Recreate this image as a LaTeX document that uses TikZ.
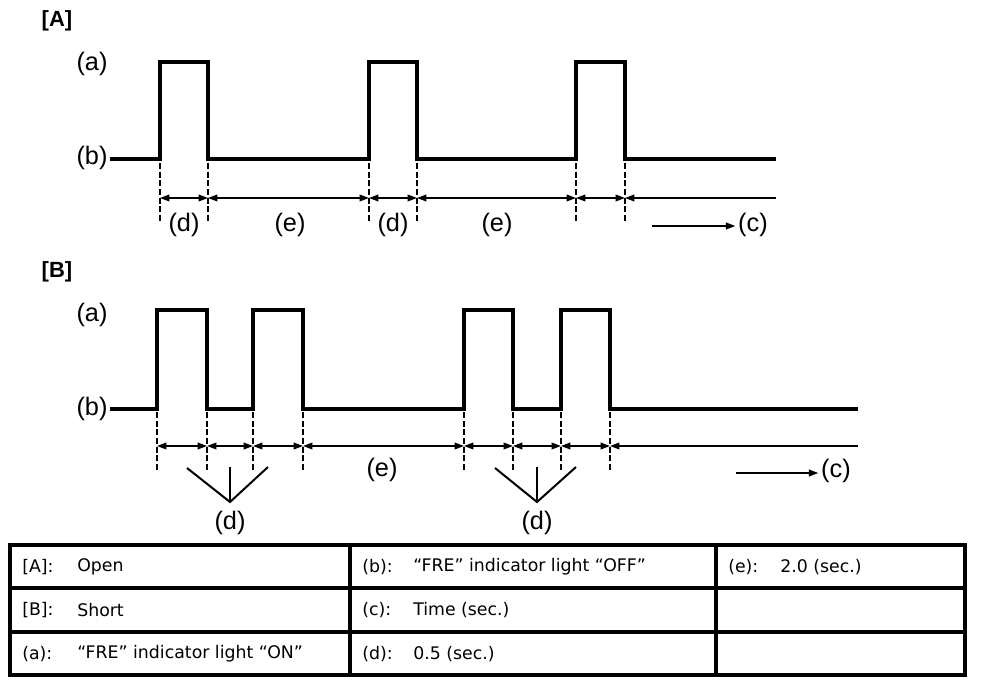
\documentclass[tikz,border=0pt]{standalone}
\usepackage{fontspec}
\setmainfont{Liberation Sans}
\newfontfamily\tabfont{DejaVu Sans}
\usetikzlibrary{arrows.meta}
\begin{document}
\begin{tikzpicture}[x=0.75pt,y=-0.75pt,
  >={Triangle[length=7pt,width=5pt]},
  sig/.style={line width=2.4pt, line join=miter},
  dimline/.style={line width=1.1pt},
  guide/.style={line width=1.4pt, dash pattern=on 4.5pt off 2pt},
  vline/.style={line width=1.5pt},
  lbl/.style={font=\fontsize{19}{21}\selectfont, inner sep=0pt},
  hdr/.style={font=\fontsize{16.5}{18}\selectfont\bfseries, inner sep=0pt},
  tab/.style={font=\tabfont\fontsize{13}{15}\selectfont, anchor=west, inner sep=0pt},
  gridline/.style={line width=2.8pt},
]
\useasboundingbox (0,0) rectangle (992,684);

% ---------- Panel A ----------
\node[hdr] (A) at (57,21) {[A]};
\node[lbl] (Aa) at (92,64) {(a)};
\node[lbl] (Ab) at (92,158) {(b)};
\draw[sig] (110,159) -- (160,159) -- (160,62) -- (208,62) -- (208,159) -- (369,159) -- (369,62) -- (417,62) -- (417,159) -- (576,159) -- (576,62) -- (625,62) -- (625,159) -- (776,159);
\foreach \x in {160,208,369,417,576,625} \draw[guide] (\x,163) -- (\x,222);
\draw[dimline,<->] (160,198) -- (208,198);
\draw[dimline,<->] (208,198) -- (369,198);
\draw[dimline,<->] (369,198) -- (417,198);
\draw[dimline,<->] (417,198) -- (576,198);
\draw[dimline,<->] (576,198) -- (625,198);
\draw[dimline,<-] (625,198) -- (776,198);
\node[lbl] (Ad1) at (184,225) {(d)};
\node[lbl] (Ae1) at (290,225) {(e)};
\node[lbl] (Ad2) at (393,225) {(d)};
\node[lbl] (Ae2) at (497,225) {(e)};
\node[lbl] (Ac) at (753,225) {(c)};
\coordinate (Acs) at (652,226);
\draw[dimline,->] (Acs) -- ([xshift=-2pt]Acs -| Ac.west);

% ---------- Panel B ----------
\node[hdr] (B) at (57,272) {[B]};
\node[lbl] (Ba) at (92,315) {(a)};
\node[lbl] (Bb) at (92,409) {(b)};
\draw[sig] (110,409) -- (157,409) -- (157,310) -- (207,310) -- (207,409) -- (253,409) -- (253,310) -- (303,310) -- (303,409) -- (464,409) -- (464,310) -- (513,310) -- (513,409) -- (561,409) -- (561,310) -- (610,310) -- (610,409) -- (858,409);
\foreach \x in {157,207,253,303,464,513,561,610} \draw[guide] (\x,412) -- (\x,470);
\draw[dimline,<->] (157,446) -- (207,446);
\draw[dimline,<->] (207,446) -- (253,446);
\draw[dimline,<->] (253,446) -- (303,446);
\draw[dimline,<->] (303,446) -- (464,446);
\draw[dimline,<->] (464,446) -- (513,446);
\draw[dimline,<->] (513,446) -- (561,446);
\draw[dimline,<->] (561,446) -- (610,446);
\draw[dimline,<-] (610,446) -- (858,446);
\node[lbl] (Be) at (382,470) {(e)};
\node[lbl] (Bd1) at (230,523) {(d)};
\node[lbl] (Bd2) at (537,523) {(d)};
\draw[vline] (187,468) -- (230,502) -- (268,467);
\draw[vline] (230,467) -- (230,502);
\draw[vline] (495,468) -- (537,502) -- (576,467);
\draw[vline] (537,467) -- (537,502);
\node[lbl] (Bc) at (836,471) {(c)};
\coordinate (Bcs) at (736,473);
\draw[dimline,->] (Bcs) -- ([xshift=-2pt]Bcs -| Bc.west);

% ---------- Legend table ----------
\draw[gridline] (10,545) rectangle (965,675);
\draw[gridline] (10,588) -- (965,588);
\draw[gridline] (10,632) -- (965,632);
\draw[gridline] (350,545) -- (350,675);
\draw[gridline] (716,545) -- (716,675);

\node[tab] (k1) at (22,567) {[A]:};
\node[tab] (v1) at (77,567) {Open};
\node[tab] (k2) at (22,610) {[B]:};
\node[tab] (v2) at (77,610) {Short};
\node[tab] (k3) at (22,654) {(a):};
\node[tab] (v3) at (77,654) {“FRE” indicator light “ON”};
\node[tab] (k4) at (362,567) {(b):};
\node[tab] (v4) at (413,567) {“FRE” indicator light “OFF”};
\node[tab] (k5) at (362,610) {(c):};
\node[tab] (v5) at (413,610) {Time (sec.)};
\node[tab] (k6) at (362,654) {(d):};
\node[tab] (v6) at (413,654) {0.5 (sec.)};
\node[tab] (k7) at (728,567) {(e):};
\node[tab] (v7) at (780,567) {2.0 (sec.)};
\end{tikzpicture}
\end{document}
